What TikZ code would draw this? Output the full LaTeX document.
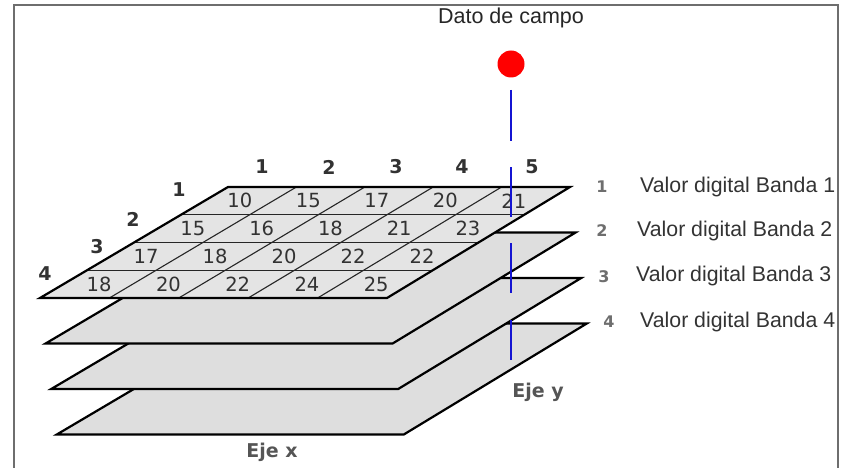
\documentclass[tikz,border=0pt]{standalone}
\usepackage{fontspec}
\setmainfont{Liberation Sans}
\newfontfamily\dv{DejaVu Sans}
\usetikzlibrary{calc}
\definecolor{planefill}{RGB}{222,222,222}
\definecolor{topfill}{RGB}{228,228,228}
\definecolor{numgray}{RGB}{50,50,50}
\definecolor{lblgray}{RGB}{85,85,85}
\definecolor{framegray}{RGB}{110,110,110}
\definecolor{fieldblue}{RGB}{20,20,210}
\tikzset{
  plane/.style={fill=planefill, draw=black, line width=2.2pt, line join=miter},
  gridline/.style={draw=black!85, line width=1.1pt},
  cellnum/.style={font=\dv\fontsize{19.5}{19.5}\selectfont, text=numgray, inner sep=0pt},
  headnum/.style={font=\dv\bfseries\fontsize{19}{19}\selectfont, text=numgray, inner sep=0pt},
  bandnum/.style={font=\dv\bfseries\fontsize{16}{16}\selectfont, text=lblgray!85, inner sep=0pt},
  bandlbl/.style={font=\fontsize{21.3}{21.3}\selectfont, text=black!80, inner sep=0pt, anchor=west},
  axislbl/.style={font=\dv\bfseries\fontsize{19}{19}\selectfont, text=lblgray, inner sep=0pt},
  bluebar/.style={draw=fieldblue, line width=2.8pt}
}
\begin{document}
\begin{tikzpicture}[x=1pt,y=-1pt]
\useasboundingbox (0,0) rectangle (846,468);
% frame
\draw[framegray, line width=1.5pt] (14,468) -- (14,5) -- (838,5) -- (838,468);
% planes, bottom first
\foreach \i in {3,2,1} {
  \begin{scope}[shift={(5.6*\i,45.5*\i)}]
    \draw[plane] (40,298) -- (387,298) -- (570,187) -- (228,187) -- cycle;
  \end{scope}
}
% top plane
\coordinate (TL) at (228,187);
\coordinate (TR) at (570,187);
\coordinate (BR) at (387,298);
\coordinate (BL) at (40,298);
\fill[topfill] (BL) -- (BR) -- (TR) -- (TL) -- cycle;
% grid lines
\foreach \k in {1,2,3} {
  \draw[gridline] ($(TL)!\k/4!(BL)$) -- ($(TR)!\k/4!(BR)$);
}
\foreach \k in {1,2,3,4} {
  \draw[gridline] ($(TL)!\k/5!(TR)$) -- ($(BL)!\k/5!(BR)$);
}
\draw[plane, fill=none] (BL) -- (BR) -- (TR) -- (TL) -- cycle;
% cell values
\foreach \r/\vals in {0/{10,15,17,20,21},1/{15,16,18,21,23},2/{17,18,20,22,22},3/{18,20,22,24,25}} {
  \foreach \n [count=\c from 0] in \vals {
    \pgfmathsetmacro{\vv}{(\r+0.5)/4}
    \pgfmathsetmacro{\uu}{(\c+0.5)/5}
    \pgfmathsetmacro{\xx}{228-188*\vv+\uu*(342+5*\vv)+1}
    \pgfmathsetmacro{\yy}{187+111*\vv}
    \node[cellnum] (cell-\r-\c) at (\xx,\yy) {\n};
  }
}
% column headers
\foreach \c/\x in {1/262,2/329,3/396,4/462,5/532} {
  \node[headnum] (col\c) at (\x,167) {\c};
}
% row headers
\node[headnum] (row1) at (179,190) {1};
\node[headnum] (row2) at (133,219) {2};
\node[headnum] (row3) at (97,247) {3};
\node[headnum] (row4) at (45,274) {4};
% field datum
\node[font=\fontsize{21.5}{21.5}\selectfont, text=black!85, inner sep=0pt] (dato) at (511,18) {Dato de campo};
\node[circle, fill=red, minimum size=27pt, inner sep=0pt] (dot) at (511,64) {};
\coordinate (b1a) at (511,90);  \coordinate (b1b) at (511,141);
\coordinate (b2a) at (511,167); \coordinate (b2b) at (511,217);
\coordinate (b3a) at (511,243); \coordinate (b3b) at (511,293);
\coordinate (b4a) at (511,320); \coordinate (b4b) at (511,360);
\draw[bluebar] (b1a) -- (b1b);
\draw[bluebar] (b2a) -- (b2b);
\draw[bluebar] (b3a) -- (b3b);
\draw[bluebar] (b4a) -- (b4b);
% band labels
\node[bandnum] (n1) at (602,187) {1};
\node[bandnum] (n2) at (602,231) {2};
\node[bandnum] (n3) at (604,277) {3};
\node[bandnum] (n4) at (609,322) {4};
\node[bandlbl] (l1) at (640,187) {Valor digital Banda 1};
\node[bandlbl] (l2) at (637,231) {Valor digital Banda 2};
\node[bandlbl] (l3) at (636,276) {Valor digital Banda 3};
\node[bandlbl] (l4) at (640,322) {Valor digital Banda 4};
% axes
\node[axislbl] (ejey) at (538,392) {Eje\hspace{0.35em}y};
\node[axislbl] (ejex) at (272,452) {Eje\hspace{0.35em}x};
\end{tikzpicture}
\end{document}
